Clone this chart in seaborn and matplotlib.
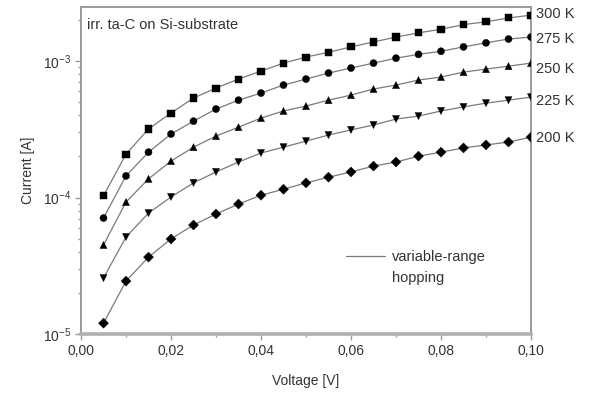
import seaborn as sns
import matplotlib.pyplot as plt
import pandas as pd
from matplotlib.lines import Line2D
from matplotlib.ticker import FuncFormatter, LogLocator, NullFormatter, MultipleLocator

voltage = [0.005, 0.010, 0.015, 0.020, 0.025, 0.030, 0.035, 0.040, 0.045, 0.050,
           0.055, 0.060, 0.065, 0.070, 0.075, 0.080, 0.085, 0.090, 0.095, 0.100]

current_300 = [1.03e-4, 2.08e-4, 3.18e-4, 4.16e-4, 5.36e-4, 6.34e-4, 7.38e-4, 8.45e-4, 9.66e-4, 1.07e-3,
               1.16e-3, 1.27e-3, 1.38e-3, 1.50e-3, 1.61e-3, 1.71e-3, 1.85e-3, 1.94e-3, 2.07e-3, 2.17e-3]
current_275 = [7.08e-5, 1.44e-4, 2.15e-4, 2.92e-4, 3.63e-4, 4.45e-4, 5.17e-4, 5.83e-4, 6.67e-4, 7.38e-4,
               8.17e-4, 8.89e-4, 9.66e-4, 1.05e-3, 1.12e-3, 1.18e-3, 1.27e-3, 1.36e-3, 1.45e-3, 1.50e-3]
current_250 = [4.49e-5, 9.27e-5, 1.37e-4, 1.85e-4, 2.34e-4, 2.82e-4, 3.28e-4, 3.82e-4, 4.31e-4, 4.68e-4,
               5.17e-4, 5.63e-4, 6.24e-4, 6.67e-4, 7.26e-4, 7.64e-4, 8.30e-4, 8.73e-4, 9.18e-4, 9.66e-4]
current_225 = [2.57e-5, 5.14e-5, 7.69e-5, 1.01e-4, 1.28e-4, 1.54e-4, 1.82e-4, 2.12e-4, 2.34e-4, 2.59e-4,
               2.87e-4, 3.13e-4, 3.40e-4, 3.76e-4, 3.95e-4, 4.31e-4, 4.61e-4, 4.92e-4, 5.17e-4, 5.44e-4]
current_200 = [1.20e-5, 2.44e-5, 3.66e-5, 4.97e-5, 6.29e-5, 7.57e-5, 8.96e-5, 1.04e-4, 1.15e-4, 1.28e-4,
               1.41e-4, 1.54e-4, 1.70e-4, 1.82e-4, 2.01e-4, 2.15e-4, 2.31e-4, 2.43e-4, 2.55e-4, 2.77e-4]

temperaturas = ['300 K', '275 K', '250 K', '225 K', '200 K']
label_y = [2.21e-3, 1.45e-3, 8.7e-4, 5.1e-4, 2.73e-4]

series = [current_300, current_275, current_250, current_225, current_200]

data_total = []
for temp, valores in zip(temperaturas, series):
    for v, i in zip(voltage, valores):
        data_total.append({'V': v, 'I': i, 'T': temp})
df = pd.DataFrame(data_total)

sns.set_style("ticks")
plt.rcParams['font.family'] = ['Liberation Sans', 'DejaVu Sans']
plt.rcParams['mathtext.fontset'] = 'custom'
plt.rcParams['mathtext.rm'] = 'Liberation Sans'
plt.rcParams['mathtext.it'] = 'Liberation Sans'
plt.rcParams['mathtext.default'] = 'regular'

texto = '#333333'
marco = '#9a9a9a'

fig = plt.figure(figsize=(5.95, 3.98), dpi=100)
ax = fig.add_axes([81 / 595, 1 - 334 / 398, 450 / 595, 327 / 398])

# curvas de ajuste (VRH)
sns.lineplot(data=df, x='V', y='I', units='T', estimator=None, color='#7a7a7a',
             lw=0.9, legend=False, ax=ax)

marcadores = {'300 K': 's', '275 K': 'o', '250 K': '^', '225 K': 'v', '200 K': 'D'}
sns.scatterplot(data=df, x='V', y='I', style='T', markers=marcadores, color='black',
                s=26, edgecolor='black', linewidth=0.3, legend=False, ax=ax, zorder=3)

ax.set_yscale('log')
ax.set_xlim(0, 0.1)
ax.set_ylim(1e-5, 2.49e-3)

ax.xaxis.set_major_locator(MultipleLocator(0.02))
ax.xaxis.set_minor_locator(MultipleLocator(0.01))
ax.xaxis.set_major_formatter(FuncFormatter(lambda x, p: f"{x:.2f}".replace('.', ',')))
ax.yaxis.set_major_locator(LogLocator(base=10))
ax.yaxis.set_minor_locator(LogLocator(base=10, subs=range(2, 10)))
ax.yaxis.set_minor_formatter(NullFormatter())

ax.tick_params(which='major', direction='out', length=4, width=1, color=marco,
               labelsize=10, labelcolor=texto, pad=3)
ax.tick_params(which='minor', direction='out', length=2, width=1, color=marco)

for lado in ['left', 'right', 'top']:
    ax.spines[lado].set_color(marco)
    ax.spines[lado].set_linewidth(1.4)
ax.spines['bottom'].set_color('#b0b0b0')
ax.spines['bottom'].set_linewidth(2.6)

ax.set_xlabel('Voltage [V]', fontsize=10, color=texto, labelpad=12)
ax.set_ylabel('Current [A]', fontsize=10, color=texto, labelpad=6)

ax.text(0.013, 0.965, 'irr. ta-C on Si-substrate', transform=ax.transAxes,
        fontsize=10.5, color=texto, ha='left', va='top')

trans = ax.get_yaxis_transform()
for temp, y in zip(temperaturas, label_y):
    ax.text(1.01, y, temp, transform=trans, fontsize=10.5, color=texto,
            ha='left', va='center', clip_on=False)

handles = [Line2D([], [], color='#7a7a7a', lw=0.9), Line2D([], [], lw=0)]
ax.legend(handles=handles, labels=['variable-range', 'hopping'], frameon=False,
          loc='upper left', bbox_to_anchor=(346 / 595, 1 - 250 / 398),
          bbox_transform=fig.transFigure, borderaxespad=0, borderpad=0,
          handlelength=2.7, handletextpad=0.45, labelspacing=0.5,
          fontsize=10.5, labelcolor=texto)

fig.savefig('out.png', dpi=100)
